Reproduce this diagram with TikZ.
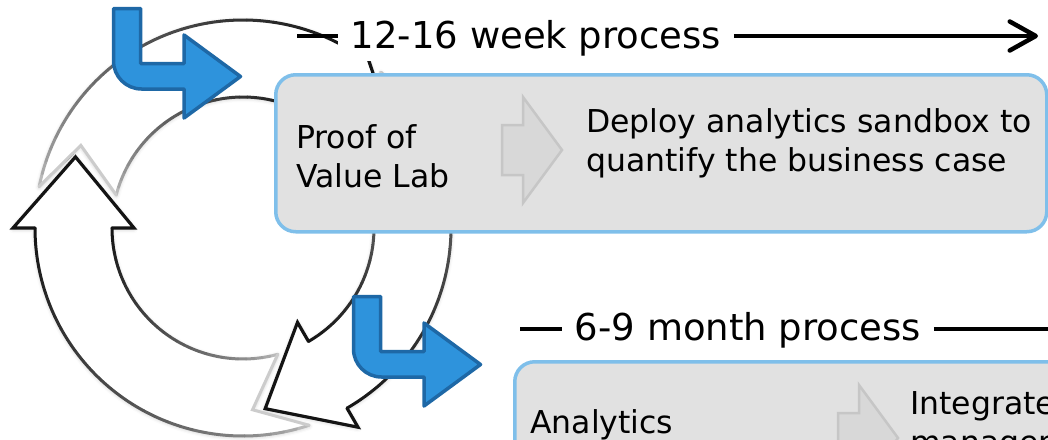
\documentclass[tikz,border=0pt]{standalone}
\usepackage{fontspec}
\setmainfont{DejaVu Sans}
\usetikzlibrary{arrows.meta,shadows.blur,calc}

\definecolor{ringdark}{HTML}{141414}
\definecolor{ringlight}{HTML}{CCCCCC}
\definecolor{bluefill}{HTML}{2E93DC}
\definecolor{bluestroke}{HTML}{1E68A6}
\definecolor{boxfill}{HTML}{E1E1E1}
\definecolor{boxedge}{HTML}{7FBFEA}
\definecolor{chevfill}{HTML}{D8D8D8}
\definecolor{chevedge}{HTML}{C6C6C6}

% One segment of the cycle ring: #1 = angle of the head base,
% #2 = angle of the notch cut into the tail (screen angles, clockwise).
\newcommand\ringarrow[2]{%
  \pgfmathsetmacro\raHead{#1}%
  \pgfmathsetmacro\raNotch{#2}%
  \pgfmathsetmacro\raTailOut{\raNotch+7.5}%
  \pgfmathsetmacro\raTailIn{\raNotch+10.6}%
  \pgfmathsetmacro\raTailTip{\raNotch+23}%
  \pgfmathsetmacro\raTip{\raHead+23}%
  \fill[white, blur shadow={shadow xshift=0pt, shadow yshift=-1pt,
      shadow blur radius=4pt, shadow opacity=25}]
    (\raTailOut:208) arc[start angle=\raTailOut, end angle=\raHead, radius=208]
    -- (\raHead:230) -- (\raTip:182) -- (\raHead:109) -- (\raHead:131)
    arc[start angle=\raHead, end angle=\raTailIn, radius=131]
    -- (\raTailTip:182) -- cycle;
  \foreach \k in {0,...,29}{%
    \pgfmathsetmacro\raA{\raTailOut+(\raHead-\raTailOut)*\k/30}%
    \pgfmathsetmacro\raB{\raTailOut+(\raHead-\raTailOut)*(\k+1)/30}%
    \pgfmathtruncatemacro\raPc{100*((\k+0.5)/30)^0.55}%
    \draw[rim, draw=ringdark!\raPc!ringlight]
      (\raA:208) arc[start angle=\raA, end angle=\raB, radius=208];
    \pgfmathsetmacro\raA{\raTailIn+(\raHead-\raTailIn)*\k/30}%
    \pgfmathsetmacro\raB{\raTailIn+(\raHead-\raTailIn)*(\k+1)/30}%
    \draw[rim, draw=ringdark!\raPc!ringlight]
      (\raA:131) arc[start angle=\raA, end angle=\raB, radius=131];
  }%
  \draw[rim, draw=ringdark, line join=miter, line width=3.2pt]
    (\raHead:208) -- (\raHead:230) -- (\raTip:182) -- (\raHead:109) -- (\raHead:131);
  \draw[rim, draw=ringlight, line join=miter]
    (\raTailIn:131) -- (\raTailTip:182) -- (\raTailOut:208);
}

\tikzset{
  rim/.style={line width=3pt, line cap=round},
  procbox/.style={draw=boxedge, fill=boxfill, line width=3.5pt,
    rounded corners=20pt, inner sep=0pt},
  chevron/.style={draw=chevedge, fill=chevfill, line width=2.5pt},
  boxtext/.style={font=\fontsize{31.5}{39}\selectfont, align=left,
    inner sep=0pt, anchor=base west},
  steplabel/.style={font=\fontsize{37}{44}\selectfont, fill=white,
    inner xsep=12.5pt, inner ysep=0pt, minimum height=46pt},
  procline/.style={line width=4.5pt, draw=black},
  bluearrow/.style={draw=bluestroke, fill=bluefill, line width=3.5pt,
    line join=round},
  bentarrow/.pic={
    \draw[bluearrow] (0,0) -- (27,0) -- (27,55) -- (70.5,55) -- (70.5,26.5)
      -- (127,68) -- (70.5,109.5) -- (70.5,80.5) -- (28,80.5)
      arc[start angle=90, end angle=180, radius=28] -- cycle;
  }
}

\begin{document}
\begin{tikzpicture}[x=1pt, y=-1pt]
\useasboundingbox (0,0) rectangle (1048,439);
\clip (0,0) rectangle (1048,439);

% cycle ring of three block arcs
\begin{scope}[shift={(243,228)}]
  \ringarrow{-60}{-176}
  \ringarrow{60}{-56}
  \ringarrow{180}{64}
\end{scope}

% process boxes
\node[procbox, anchor=north west, minimum width=771pt, minimum height=157pt]
  (box1) at (274,73) {};
\node[procbox, anchor=north west, minimum width=640pt, minimum height=200pt]
  (box2) at (513,360) {};

% grey chevrons inside the boxes
\draw[chevron] (502,125) -- (523,125) -- (523,97) -- (562,150) -- (523,203)
  -- (523,175) -- (502,175) -- cycle;
\draw[chevron] (838,413) -- (859,413) -- (859,385) -- (898,438) -- (859,491)
  -- (859,463) -- (838,463) -- cycle;

% box texts (base anchor sits on the last line)
\node[boxtext] (pov) at (296,187) {Proof of\\Value Lab};
\node[boxtext] (povtxt) at (586,171) {Deploy analytics sandbox to\\quantify the business case};
\node[boxtext] (ana) at (530,433) {Analytics};
\node[boxtext] (anatxt) at (910,453) {Integrate\\management};

% duration labels with their timelines
\node[steplabel] (lab1) at (536,38) {12-16 week process};
\coordinate (l1s) at (297,36);
\coordinate (l1e) at (1038,36);
\draw[procline] (l1s) -- (l1s -| lab1.west);
\draw[procline, -{Straight Barb[length=26pt, width=29pt, round]}]
  (l1e -| lab1.east) -- (l1e);

\node[steplabel] (lab2) at (748,330) {6-9 month process};
\coordinate (l2s) at (520,329);
\coordinate (l2e) at (1070,329);
\draw[procline] (l2s) -- (l2s -| lab2.west);
\draw[procline] (l2e -| lab2.east) -- (l2e);

% blue bent arrows
\pic at (113.5,8.5) {bentarrow};
\pic at (353.5,296.5) {bentarrow};
\end{tikzpicture}
\end{document}
